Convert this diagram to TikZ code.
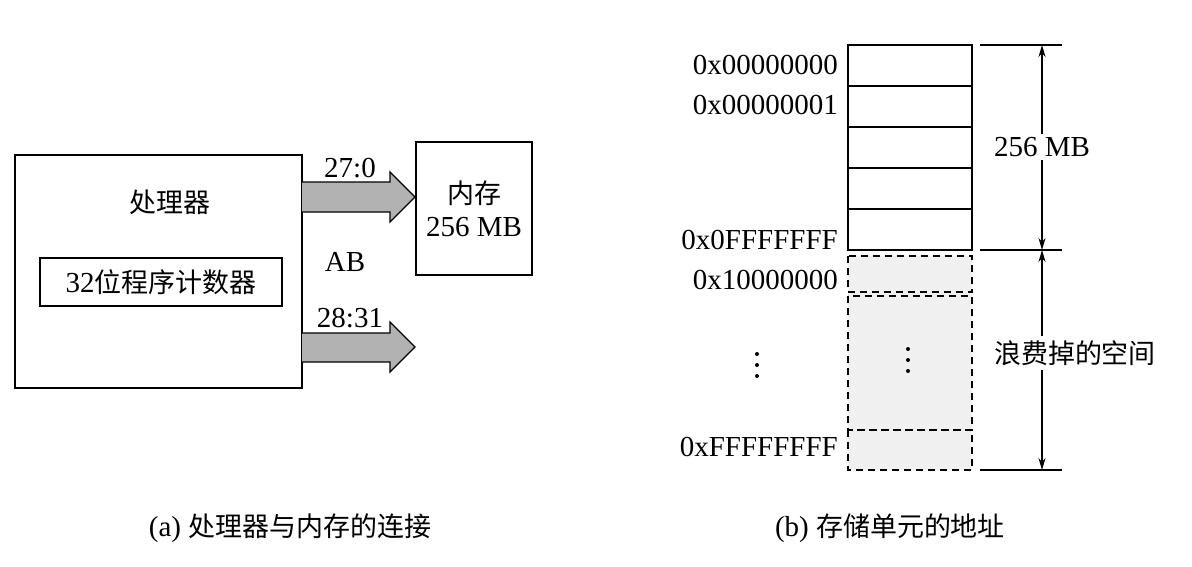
\documentclass[tikz,border=0pt]{standalone}
\usepackage{fontspec}
\setmainfont{Liberation Serif}
\newfontfamily\cjk{Noto Sans CJK SC}[Scale=0.93]
\usetikzlibrary{arrows.meta}
\begin{document}
\begin{tikzpicture}[x=1pt,y=-1pt,
  txt/.style={font=\fontsize{29}{33}\selectfont},
  lab/.style={txt,anchor=east,inner sep=0pt},
  bus/.style={draw,line width=1.3pt,fill=gray!60},
  cell/.style={draw,line width=1.3pt},
  dcell/.style={draw,line width=1.5pt,dashed,dash pattern=on 7pt off 5pt},
  dim/.style={line width=1.2pt,-{Stealth[length=12pt,width=7pt]}}]
\useasboundingbox (0,0) rectangle (1192,566);
% left
\node[draw,line width=1.3pt,minimum width=287pt,minimum height=233pt] (cpu) at (158.5,271.5) {};
\node[txt] (cpuL) at (170,202) {\cjk 处理器};
\node[draw,line width=1.3pt,minimum width=242pt,minimum height=48pt,inner sep=0pt,txt] (pc) at (161,282) {32\cjk 位程序计数器};
\node[draw,line width=1.3pt,minimum width=116pt,minimum height=133pt,inner sep=0pt,align=center,txt] (mem) at (474,208.5) {\cjk 内存\\256 MB};
\draw[bus] (302,182) -- (390,182) -- (390,172) -- (415,197) -- (390,222) -- (390,212) -- (302,212);
\draw[bus] (302,333) -- (390,333) -- (390,322) -- (415,347) -- (390,372) -- (390,362) -- (302,362);
\node[txt] (b1) at (350,168) {27:0};
\node[txt] (b2) at (350,318) {28:31};
\node[txt] (ab) at (345,262) {AB};
% right
\fill[gray!12] (848,256) rectangle (972,470);
\foreach \a/\b in {45/86,86/127,127/168,168/209,209/250}{\draw[cell] (848,\a) rectangle (972,\b);}
\draw[dcell] (848,256) rectangle (972,292);
\draw[dcell] (848,296) rectangle (972,430);
\draw[dcell] (848,430) rectangle (972,470);
\node[lab] (a0) at (838,65) {0x00000000};
\node[lab] (a1) at (838,105) {0x00000001};
\node[lab] (a2) at (838,240) {0x0FFFFFFF};
\node[lab] (a3) at (838,280) {0x10000000};
\node[lab] (a4) at (838,447) {0xFFFFFFFF};
\foreach \x/\y in {757/365,908/360}{\foreach \d in {-11,0,11}{\fill (\x,\y+\d) circle (2pt);}}
\foreach \y in {45,250,470}{\draw[line width=1.2pt] (980,\y) -- (1062,\y);}
\coordinate (t0) at (1042,45); \coordinate (t1) at (1042,250); \coordinate (t2) at (1042,470);
\node[txt,fill=white,inner sep=3pt] (s1) at (1042,147) {256 MB};
\node[txt,fill=white,inner sep=4pt] (s2) at (1075,353) {\cjk 浪费掉的空间};
\draw[dim] (s1.north) -- (t0); \draw[dim] (s1.south) -- (t1);
\draw[dim] (s2.north -| t1) -- (t1); \draw[dim] (s2.south -| t1) -- (t2);
% captions
\node[txt] (c1) at (290,528) {(a) \cjk 处理器与内存的连接};
\node[txt] (c2) at (890,528) {(b) \cjk 存储单元的地址};
\end{tikzpicture}
\end{document}
